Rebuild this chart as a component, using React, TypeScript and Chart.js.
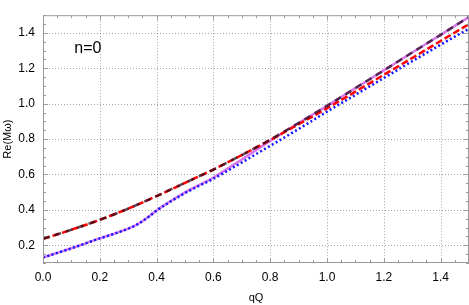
import React, { useEffect, useRef } from "react";
import { Chart, registerables } from "chart.js";

Chart.register(...registerables);

// x values (qQ)
const qQUpper = [0, 0.1, 0.2, 0.3, 0.4, 0.5, 0.6, 0.7, 0.8, 0.9, 1.0, 1.1, 1.2, 1.3, 1.4, 1.5];
const redVals = [0.236, 0.288, 0.344, 0.407, 0.478, 0.553, 0.628, 0.71, 0.795, 0.884, 0.974, 1.068, 1.163, 1.258, 1.354, 1.45];
const blackVals = [0.236, 0.288, 0.344, 0.407, 0.478, 0.553, 0.628, 0.71, 0.797, 0.891, 0.988, 1.088, 1.188, 1.289, 1.389, 1.49];

const qQLower = [0, 0.05, 0.1, 0.15, 0.2, 0.25, 0.3, 0.325, 0.35, 0.375, 0.4, 0.45, 0.5, 0.55, 0.6, 0.7, 0.8, 0.9, 1.0, 1.1, 1.2, 1.3, 1.4, 1.5];
const blueVals = [0.131, 0.157, 0.183, 0.211, 0.239, 0.265, 0.294, 0.312, 0.336, 0.365, 0.396, 0.448, 0.495, 0.536, 0.576, 0.668, 0.762, 0.857, 0.955, 1.05, 1.145, 1.24, 1.333, 1.424];
const violetVals = [0.131, 0.157, 0.183, 0.211, 0.239, 0.265, 0.294, 0.312, 0.336, 0.365, 0.397, 0.45, 0.499, 0.541, 0.583, 0.685, 0.79, 0.891, 0.988, 1.088, 1.188, 1.289, 1.389, 1.49];

const xTicks = [0, 0.2, 0.4, 0.6, 0.8, 1.0, 1.2, 1.4];
const yTicks = [0.2, 0.4, 0.6, 0.8, 1.0, 1.2, 1.4];

const X_MIN = 0, X_MAX = 1.5, Y_MIN = 0.1, Y_MAX = 1.5;
const FONT = "'Liberation Sans', Arial, sans-serif";

const toPts = (xs: number[], ys: number[]) => xs.map((x, i) => ({ x, y: ys[i] }));

const gridPlugin = {
  id: "dottedGrid",
  beforeDatasetsDraw(chart: any) {
    const { ctx, chartArea } = chart;
    const { left, right, top, bottom } = chartArea;
    const xs = chart.scales.x;
    const ys = chart.scales.y;
    ctx.save();
    ctx.strokeStyle = "rgba(0,0,0,0.35)";
    ctx.lineWidth = 1;
    ctx.setLineDash([1, 2]);
    ctx.beginPath();
    xTicks.forEach((v) => {
      const px = Math.round(xs.getPixelForValue(v)) + 0.5;
      ctx.moveTo(px, top);
      ctx.lineTo(px, bottom);
    });
    yTicks.forEach((v) => {
      const py = Math.round(ys.getPixelForValue(v)) + 0.5;
      ctx.moveTo(left, py);
      ctx.lineTo(right, py);
    });
    ctx.stroke();
    ctx.restore();
  },
};

const framePlugin = {
  id: "frameTicks",
  afterDraw(chart: any) {
    const { ctx, chartArea } = chart;
    const { left, right, top, bottom } = chartArea;
    const xs = chart.scales.x;
    const ys = chart.scales.y;
    ctx.save();
    ctx.strokeStyle = "#9a9a9a";
    ctx.lineWidth = 1;
    ctx.beginPath();
    ctx.rect(left + 0.5, top + 0.5, right - left - 1, bottom - top - 1);
    ctx.stroke();
    ctx.beginPath();
    for (let i = 0; i <= 30; i++) {
      const v = X_MIN + i * 0.05;
      const px = Math.round(xs.getPixelForValue(v)) + 0.5;
      const major = i % 4 === 0;
      const len = major ? 5 : 3;
      ctx.moveTo(px, bottom);
      ctx.lineTo(px, bottom - len);
      ctx.moveTo(px, top);
      ctx.lineTo(px, top + len);
    }
    for (let i = 0; i <= 28; i++) {
      const v = Y_MIN + i * 0.05;
      const py = Math.round(ys.getPixelForValue(v)) + 0.5;
      const major = i % 4 === 2;
      const len = major ? 5 : 3;
      ctx.moveTo(left, py);
      ctx.lineTo(left + len, py);
      ctx.moveTo(right, py);
      ctx.lineTo(right - len, py);
    }
    ctx.stroke();
    ctx.fillStyle = "#000";
    ctx.font = `16px ${FONT}`;
    ctx.textAlign = "center";
    ctx.textBaseline = "middle";
    ctx.fillText("n=0", xs.getPixelForValue(0.158), ys.getPixelForValue(1.31));
    ctx.restore();
  },
};

export default function App() {
  const ref = useRef<HTMLCanvasElement | null>(null);
  useEffect(() => {
    document.body.style.margin = "0";
    const canvas = ref.current!;
    const chart = new Chart(canvas, {
      type: "line",
      data: {
        datasets: [
          {
            label: "violet",
            order: 4,
            data: toPts(qQLower, violetVals),
            borderColor: "rgb(215,120,240)",
            borderWidth: 2.5,
            pointRadius: 0,
            cubicInterpolationMode: "monotone",
          },
          {
            label: "blue",
            order: 3,
            data: toPts(qQLower, blueVals),
            borderColor: "rgb(20,20,255)",
            borderWidth: 2.5,
            borderDash: [2, 2.5],
            pointRadius: 0,
            cubicInterpolationMode: "monotone",
          },
          {
            label: "red",
            order: 2,
            data: toPts(qQUpper, redVals),
            borderColor: "rgb(255,0,0)",
            borderWidth: 2.5,
            borderDash: [7, 3],
            pointRadius: 0,
            cubicInterpolationMode: "monotone",
          },
          {
            label: "black",
            order: 1,
            data: toPts(qQUpper, blackVals),
            borderColor: "rgba(40,10,30,0.75)",
            borderWidth: 2.5,
            borderDash: [7, 5],
            pointRadius: 0,
            cubicInterpolationMode: "monotone",
          },
        ],
      },
      options: {
        animation: false,
        responsive: false,
        events: [],
        layout: { padding: { top: 0, right: 0, left: 0, bottom: 0 } },
        plugins: { legend: { display: false }, tooltip: { enabled: false } },
        scales: {
          x: {
            type: "linear",
            min: X_MIN,
            max: X_MAX,
            afterBuildTicks: (s: any) => {
              s.ticks = xTicks.map((v) => ({ value: v }));
            },
            afterFit: (s: any) => {
              s.height = 42;
            },
            grid: { display: false, drawTicks: false },
            border: { display: false },
            ticks: {
              padding: 7,
              color: "#000",
              font: { family: FONT, size: 12 },
              callback: (v: any) => Number(v).toFixed(1),
            },
            title: {
              display: true,
              text: "qQ",
              color: "#000",
              font: { family: FONT, size: 11 },
              padding: { top: 0, bottom: 0 },
            },
          },
          y: {
            type: "linear",
            min: Y_MIN,
            max: Y_MAX,
            afterBuildTicks: (s: any) => {
              s.ticks = yTicks.map((v) => ({ value: v }));
            },
            afterFit: (s: any) => {
              s.width = 43;
            },
            grid: { display: false, drawTicks: false },
            border: { display: false },
            ticks: {
              padding: 8,
              color: "#000",
              font: { family: FONT, size: 12 },
              callback: (v: any) => Number(v).toFixed(1),
            },
            title: {
              display: true,
              text: "Re(Mω)",
              color: "#000",
              font: { family: FONT, size: 11 },
              padding: { top: 1, bottom: 0 },
            },
          },
        },
      },
      plugins: [gridPlugin, framePlugin],
    });
    return () => chart.destroy();
  }, []);
  return (
    <div style={{ width: 469, height: 305 }}>
      <canvas ref={ref} width={469} height={305} />
    </div>
  );
}
